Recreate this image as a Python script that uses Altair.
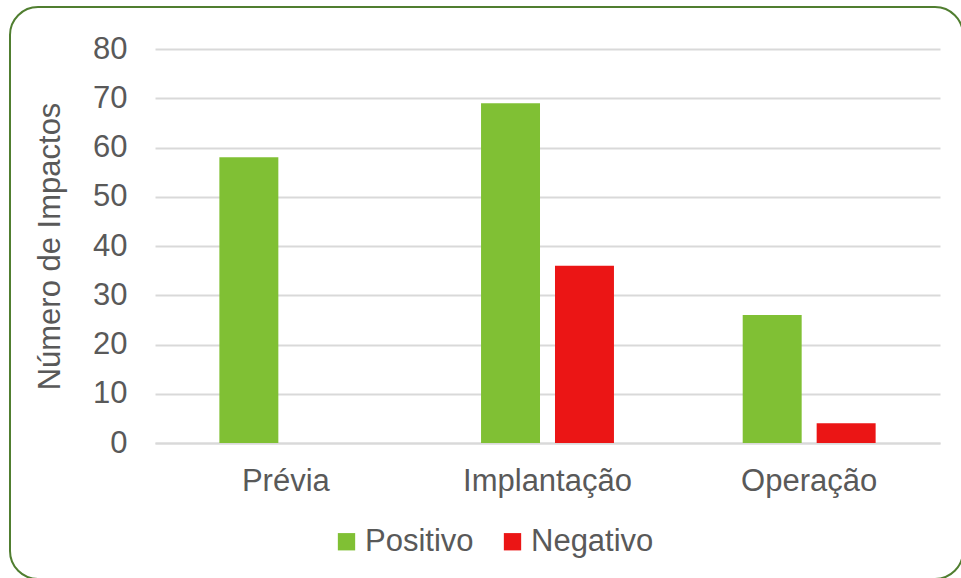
import altair as alt
import pandas as pd

categories = ["Prévia", "Implantação", "Operação"]
series = ["Positivo", "Negativo"]
positivo = [58, 69, 26]
negativo = [0, 36, 4]
y_ticks = [0, 10, 20, 30, 40, 50, 60, 70, 80]

rows = []
for c, p, n in zip(categories, positivo, negativo):
    rows.append({"fase": c, "tipo": "Positivo", "valor": p})
    rows.append({"fase": c, "tipo": "Negativo", "valor": n})
df = pd.DataFrame(rows)

FONT = "Liberation Sans"
GRAY = "#595959"
FS = 31

border = alt.Chart(pd.DataFrame({"k": [0]})).mark_rect(
    filled=False, stroke="#507E30", strokeWidth=2, cornerRadius=28
).encode(
    x=alt.value(-145), x2=alt.value(808),
    y=alt.value(-42), y2=alt.value(530),
)

bars = alt.Chart(df).mark_bar().encode(
    x=alt.X("fase:N", sort=categories, title=None,
            scale=alt.Scale(paddingInner=0.492, paddingOuter=0.246),
            axis=alt.Axis(labelAngle=0, labelFontSize=FS, labelColor=GRAY,
                          labelFont=FONT, labelPadding=23, ticks=False, grid=False,
                          domain=True, domainColor="#D9D9D9", domainWidth=2)),
    xOffset=alt.XOffset("tipo:N", sort=series,
                        scale=alt.Scale(paddingInner=0.2027, paddingOuter=0)),
    y=alt.Y("valor:Q", title="Número de Impactos",
            scale=alt.Scale(domain=[0, 80], nice=False),
            axis=alt.Axis(values=y_ticks, labelFontSize=FS, labelColor=GRAY,
                          labelFont=FONT, labelPadding=28, ticks=False,
                          domain=False, grid=True, gridColor="#D9D9D9",
                          gridWidth=2, titleFontSize=FS, titleColor=GRAY,
                          titleFont=FONT, titleFontWeight="normal",
                          titlePadding=26)),
    color=alt.Color("tipo:N", sort=series,
                    scale=alt.Scale(domain=series, range=["#80C034", "#EB1515"]),
                    legend=alt.Legend(title=None, orient="none", direction="horizontal",
                                      legendX=176, legendY=477,
                                      symbolType="square", symbolSize=300,
                                      symbolStrokeWidth=0, symbolOpacity=1,
                                      labelFontSize=FS, labelColor=GRAY,
                                      labelFont=FONT, labelOffset=3,
                                      columnPadding=23)),
)

chart = alt.layer(bars, border).properties(
    width=785, height=394,
    autosize=alt.AutoSizeParams(type="none"),
    padding={"left": 155, "top": 49, "right": 21, "bottom": 135},
    background="white",
).configure_view(stroke=None)

chart.save("out.html", embed_options={"renderer": "svg", "actions": False})
